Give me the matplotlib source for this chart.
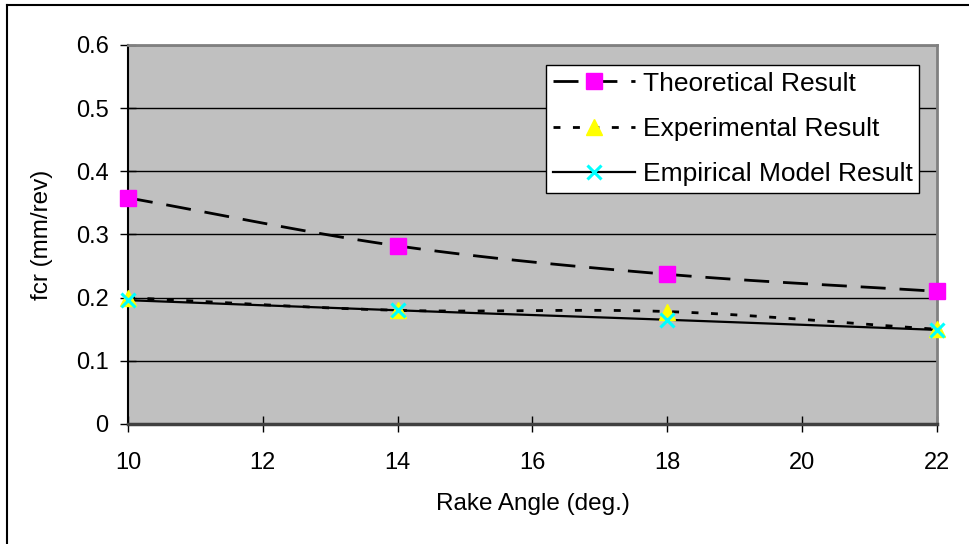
import numpy as np
import matplotlib
matplotlib.use('Agg')
import matplotlib.pyplot as plt
from matplotlib.lines import Line2D

plt.rcParams['font.family'] = ['Liberation Sans', 'DejaVu Sans']

rake = [10, 14, 18, 22]
theoretical = [0.358, 0.282, 0.237, 0.210]
experimental = [0.200, 0.180, 0.178, 0.150]
empirical = [0.196, 0.180, 0.165, 0.149]

x_ticks = [10, 12, 14, 16, 18, 20, 22]
y_ticks = [0, 0.1, 0.2, 0.3, 0.4, 0.5, 0.6]
y_tick_labels = ['0', '0.1', '0.2', '0.3', '0.4', '0.5', '0.6']


def smooth(x, y, n=40):
    # catmull-rom style curve, like excel "smoothed line"
    x = np.asarray(x, float)
    y = np.asarray(y, float)
    px = np.concatenate([[2 * x[0] - x[1]], x, [2 * x[-1] - x[-2]]])
    py = np.concatenate([[2 * y[0] - y[1]], y, [2 * y[-1] - y[-2]]])
    xs, ys = [], []
    for i in range(1, len(px) - 2):
        t = np.linspace(0, 1, n)
        for p, out in ((px, xs), (py, ys)):
            p0, p1, p2, p3 = p[i - 1], p[i], p[i + 1], p[i + 2]
            c1 = p1 + (p2 - p0) / 6
            c2 = p2 - (p3 - p1) / 6
            out.extend((1 - t) ** 3 * p1 + 3 * (1 - t) ** 2 * t * c1
                       + 3 * (1 - t) * t ** 2 * c2 + t ** 3 * p2)
    return xs, ys


dash_th = (9, 5)
dash_ex = (2.5, 4.5)

fig = plt.figure(figsize=(9.69, 5.44), dpi=100)
ax = fig.add_axes([128 / 969, 1 - 424 / 544, 809 / 969, 379 / 544])
ax.set_facecolor('#C0C0C0')

for v in y_ticks[1:]:
    ax.axhline(v, color='black', lw=1.0, zorder=1)

sx, sy = smooth(rake, theoretical)
ax.plot(sx, sy, color='black', lw=2.0, dashes=dash_th, zorder=3)
sx, sy = smooth(rake, experimental)
ax.plot(sx, sy, color='black', lw=2.0, dashes=dash_ex, zorder=3)
sx, sy = smooth(rake, empirical)
ax.plot(sx, sy, color='black', lw=1.6, zorder=3)

ax.plot(rake, theoretical, ls='none', marker='s', ms=11, mfc='#FF00FF',
        mec='#FF00FF', zorder=4, clip_on=False)
ax.plot(rake, experimental, ls='none', marker='^', ms=11, mfc='#FFFF00',
        mec='#FFFF00', zorder=4, clip_on=False)
ax.plot(rake, empirical, ls='none', marker='x', ms=10, mew=2.2,
        mec='#00FFFF', zorder=5, clip_on=False)

ax.set_xlim(10, 22)
ax.set_ylim(0, 0.6)
ax.set_xticks(x_ticks)
ax.set_yticks(y_ticks)
ax.set_yticklabels(y_tick_labels)
ax.tick_params(axis='both', direction='inout', length=12, width=1,
               labelsize=17, color='black')
ax.tick_params(axis='x', pad=14)
ax.tick_params(axis='y', pad=8)

ax.spines['left'].set_color('black')
ax.spines['left'].set_linewidth(1.5)
ax.spines['bottom'].set_color('#404040')
ax.spines['bottom'].set_linewidth(2.5)
ax.spines['top'].set_color('#808080')
ax.spines['top'].set_linewidth(2)
ax.spines['right'].set_color('#808080')
ax.spines['right'].set_linewidth(2)

ax.set_xlabel('Rake Angle (deg.)', fontsize=17.5, labelpad=14)
ax.set_ylabel('fcr (mm/rev)', fontsize=17.5, labelpad=16)

handles = [
    Line2D([], [], color='black', lw=2.0, dashes=dash_th, marker='s', ms=11,
           mfc='#FF00FF', mec='#FF00FF'),
    Line2D([], [], color='black', lw=2.0, dashes=dash_ex, marker='^', ms=11,
           mfc='#FFFF00', mec='#FFFF00'),
    Line2D([], [], color='black', lw=1.6, marker='x', ms=10, mew=2.2,
           mec='#00FFFF'),
]
labels = ['Theoretical Result', 'Experimental Result', 'Empirical Model Result']
leg = ax.legend(handles, labels, loc='upper right', bbox_to_anchor=(0.978, 0.947),
                borderaxespad=0, fontsize=19, frameon=True, fancybox=False,
                handlelength=3.1, handletextpad=0.3, labelspacing=0.8,
                borderpad=0.25, framealpha=1)
leg.get_frame().set_edgecolor('black')
leg.get_frame().set_linewidth(1.0)
leg.set_zorder(6)

# outer chart border (only top/left visible in the crop)
fig.add_artist(Line2D([7 / 969, 1.0], [1 - 5 / 544, 1 - 5 / 544],
                      transform=fig.transFigure, color='black', lw=1.5))
fig.add_artist(Line2D([7 / 969, 7 / 969], [0, 1 - 5 / 544],
                      transform=fig.transFigure, color='black', lw=1.5))

fig.savefig('out.png', dpi=100)
